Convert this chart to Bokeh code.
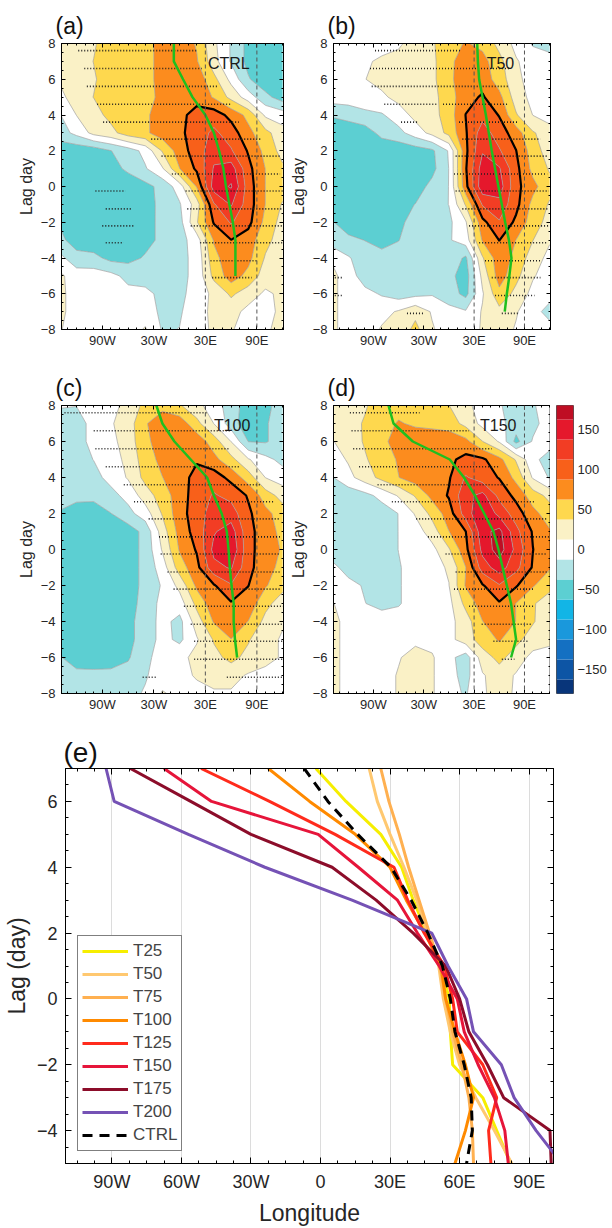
import numpy as np
from bokeh.plotting import figure
from bokeh.layouts import column, row
from bokeh.models import (FixedTicker, Span, Label, Legend, LegendItem,
                          LinearAxis, Range1d)
from bokeh.embed import file_html
from bokeh.resources import INLINE

FONT = "Liberation Sans"

# ---------------------------------------------------------------------------
# Lag-longitude composites (rows: lag 8 ... -8, columns: lon_grid)
# ---------------------------------------------------------------------------
lon_grid = [-140, -120, -100, -80, -60, -40, -20, 0, 20, 40, 60, 80, 100, 120]
lag_rows = [8, 7, 6, 5, 4, 3, 2, 1, 0, -1, -2, -3, -4, -5, -6, -7, -8]

anom_ctrl = [
    [22, 25, 35, 50, 52, 55, 70, 78, 60, 18, -15, -45, -55, -42],
    [22, 25, 38, 50, 52, 55, 70, 80, 65, 22, -15, -45, -55, -45],
    [15, 25, 35, 50, 52, 55, 70, 80, 78, 45, 5, -35, -55, -50],
    [5, 25, 38, 50, 52, 55, 68, 80, 80, 60, 30, 0, -30, -50],
    [-15, 13, 28, 45, 52, 58, 75, 82, 95, 100, 80, 55, 8, 0],
    [-25, -5, 20, 30, 50, 58, 75, 82, 100, 118, 100, 70, 45, 22],
    [-52, -55, -52, -38, -25, -5, 40, 75, 100, 128, 115, 85, 55, 28],
    [-52, -55, -55, -48, -32, -15, 10, 62, 92, 140, 150, 95, 62, 42],
    [-45, -52, -55, -58, -55, -45, -30, 0, 65, 150, 165, 100, 62, 50],
    [-42, -52, -55, -58, -55, -48, -30, -15, 25, 110, 140, 100, 62, 35],
    [-40, -52, -55, -55, -52, -45, -32, -22, 35, 90, 115, 95, 55, 28],
    [-30, -50, -55, -55, -52, -45, -32, -22, 0, 65, 87, 75, 45, 25],
    [-5, -28, -30, -45, -45, -35, -28, -20, -5, 55, 78, 70, 35, 18],
    [18, 0, 0, -5, -20, -25, -25, -20, -5, 45, 75, 55, 25, 15],
    [20, 0, 0, 0, -5, -5, -20, -20, 0, 18, 42, 25, 8, 18],
    [20, 0, 0, 0, 0, 0, -18, -15, 0, 20, 22, 5, 5, 18],
    [15, 0, 0, 0, 0, 15, -15, -12, 0, 18, 15, 0, 10, 18],
]

anom_t50 = [
    [0, 0, 0, 0, 8, 25, 35, 50, 65, 55, 30, 5, -15, -20],
    [0, 0, 8, 18, 22, 25, 32, 55, 78, 72, 45, 15, 0, -5],
    [0, 0, 12, 20, 25, 28, 32, 55, 82, 78, 50, 20, 0, 0],
    [0, 0, 5, 8, 20, 25, 30, 50, 80, 90, 70, 25, 5, 0],
    [-35, -28, -20, -15, 0, 20, 28, 50, 88, 105, 86, 40, 12, 0],
    [-55, -55, -50, -30, -20, 0, 20, 45, 85, 125, 100, 75, 40, 25],
    [-55, -58, -55, -55, -55, -50, -42, -10, 82, 135, 115, 88, 50, 25],
    [-55, -58, -58, -58, -58, -55, -45, -12, 85, 150, 140, 95, 55, 35],
    [-55, -58, -58, -58, -55, -50, -30, -12, 80, 155, 150, 95, 70, 45],
    [-50, -55, -58, -55, -45, -37, -25, -12, 40, 115, 130, 95, 55, 35],
    [-35, -50, -55, -50, -42, -30, -25, -18, 10, 80, 110, 82, 50, 28],
    [-25, -32, -38, -45, -38, -28, -22, -15, 0, 65, 88, 62, 38, 15],
    [10, -10, -25, -30, -30, -28, -25, -20, -42, 35, 78, 55, 25, 5],
    [20, 0, -25, -30, -30, -30, -28, -30, -50, 20, 75, 45, 15, 0],
    [20, 0, -5, -15, -25, -20, -15, -25, -45, 10, 55, 30, 5, -5],
    [20, 0, 0, 5, 15, 30, 10, -5, -10, 15, 30, 15, -5, -20],
    [20, 0, 0, 15, 20, 45, 15, 0, 0, 15, 25, 10, 0, -5],
]

anom_t100 = [
    [-10, -12, 0, 5, 20, 45, 55, 40, 20, 0, -25, -50, -45, -25],
    [-25, -22, -5, 10, 25, 60, 78, 78, 45, 12, -25, -55, -40, -25],
    [-25, -22, -5, 5, 25, 55, 78, 82, 78, 50, 12, -38, -40, -25],
    [-25, -22, -12, 0, 20, 50, 70, 82, 85, 70, 45, 15, -5, -20],
    [-25, -25, -20, -5, 15, 45, 62, 78, 95, 100, 80, 50, 12, 0],
    [-25, -30, -30, -20, -5, 25, 50, 75, 100, 115, 105, 85, 50, 28],
    [-40, -50, -52, -38, -20, 0, 40, 78, 100, 125, 125, 92, 70, 50],
    [-45, -55, -58, -58, -50, -30, 25, 72, 98, 135, 150, 95, 75, 55],
    [-45, -55, -58, -58, -50, -30, 15, 65, 90, 145, 160, 95, 75, 60],
    [-45, -55, -58, -58, -50, -30, 0, 50, 80, 130, 140, 95, 72, 55],
    [-45, -55, -58, -55, -50, -30, -10, 20, 68, 85, 110, 88, 65, 45],
    [-45, -55, -55, -55, -48, -28, -5, 0, 45, 78, 85, 78, 45, 25],
    [-45, -55, -55, -55, -45, -25, -5, -20, 25, 65, 78, 62, 30, 15],
    [-40, -52, -55, -55, -45, -25, -5, -18, 10, 40, 62, 40, 20, 10],
    [-35, -50, -52, -50, -40, -20, 0, 5, 20, 30, 45, 30, 20, 10],
    [-25, -30, -30, -30, -28, -15, 0, 5, 15, 20, 20, 10, 5, 0],
    [-25, -30, -30, -28, -20, -10, 15, 5, 5, 10, 10, 5, 0, 0],
]

anom_t150 = [
    [20, 25, 35, 50, 52, 52, 52, 38, 20, 0, -10, -25, -15, 0],
    [22, 28, 40, 52, 65, 58, 55, 50, 30, 5, -5, -25, -20, 0],
    [10, 25, 40, 55, 75, 80, 80, 80, 70, 38, 10, -45, -10, 0],
    [0, 15, 35, 50, 65, 78, 80, 82, 95, 92, 70, 35, -5, -25],
    [-15, 5, 25, 45, 62, 75, 78, 85, 115, 100, 86, 55, 10, -15],
    [-25, -28, -20, -5, 15, 40, 70, 90, 130, 145, 105, 80, 50, 30],
    [-25, -30, -30, -25, -12, 15, 45, 75, 125, 160, 130, 100, 70, 50],
    [-25, -30, -30, -28, -12, 0, 25, 62, 87, 155, 170, 120, 85, 65],
    [-25, -30, -30, -30, -12, 0, 5, 35, 80, 145, 175, 130, 88, 68],
    [-5, -22, -28, -30, -15, 0, 5, 15, 62, 125, 150, 120, 85, 65],
    [5, -5, -15, -28, -15, 0, 5, 12, 65, 85, 110, 90, 65, 45],
    [15, 0, -12, -20, -15, 0, 5, 5, 45, 75, 85, 62, 40, 25],
    [20, 5, 0, 0, 0, 5, 5, 5, 25, 62, 78, 62, 40, 20],
    [20, 5, 0, 0, 0, 5, 5, 5, 25, 50, 65, 45, 25, 20],
    [20, 5, 0, 0, 10, 25, 15, -5, -25, 25, 45, 25, 5, 0],
    [20, 5, 0, 0, 15, 25, 15, -5, -20, 10, 25, 10, 0, 0],
    [20, 5, 0, 0, 15, 25, 15, -5, -15, 10, 20, 10, 0, 0],
]

# significant rows: (lag, western lon, eastern lon)
sig_ctrl = [
    (7.6, -118, 20), (6.6, -111, 26), (5.6, -108, 44), (4.6, -96, 61),
    (3.6, -89, 69), (2.65, -33, 96), (1.7, -21, 117), (0.7, -9, 117),
    (-0.25, -98, -63), (-0.25, 7, 121), (-1.25, -86, -55), (-1.25, 9, 121),
    (-2.2, -90, -53), (-2.2, 13, 121), (-3.15, -86, -65), (-3.15, 24, 121),
    (-4.15, 36, 90), (-5.1, 38, 84),
]
sig_t50 = [
    (7.6, -88, 15), (6.6, -94, 72), (5.6, -92, 72), (4.6, -77, -15),
    (4.6, -7, 70), (3.6, -57, -36), (3.6, 12, 82), (2.65, 16, 109),
    (1.7, 8, 117), (0.7, 6, 117), (-0.25, 8, 119), (-1.25, 16, 119),
    (-2.2, 24, 119), (-3.15, 36, 117), (-4.15, 43, 109), (-5.1, 51, 109),
    (-5.1, -136, -127), (-6.1, 55, 102), (-6.1, -136, -127),
    (-7.1, -50, -30), (-7.1, 63, 82),
]
sig_t100 = [
    (7.6, -134, 32), (6.6, -100, 59), (5.6, -98, 59), (4.6, -86, 71),
    (3.6, -65, 94), (2.65, -53, 109), (1.7, -36, 117), (0.7, -24, 117),
    (-0.25, -22, 117), (-1.25, -14, 117), (-2.2, -7, 117), (-3.15, 5, 121),
    (-4.15, 13, 121), (-5.1, 17, 121), (-6.1, 17, 121), (-7.1, -43, -26),
    (-7.1, 55, 121),
]
sig_t150 = [
    (7.6, -118, -35), (6.6, -116, 24), (5.6, -114, 51), (4.6, -107, 59),
    (3.6, -85, 70), (2.65, -68, 102), (1.7, -39, 117), (0.7, -25, 119),
    (-0.25, -4, 117), (-1.25, 8, 119), (-2.2, 6, 102), (-3.15, 24, 102),
    (-4.15, 39, 98), (-5.1, 53, 94), (-6.1, 63, 78),
]

# tracked longitude of the maximum
track_ctrl_lag = [8, 7, 6, 5, 4, 3, 2, 1, 0, -1, -2, -3, -4, -5]
track_ctrl_lon = [-6.7, -6.7, 4, 15, 30, 40, 46, 51, 54, 58, 62, 65, 65, 65]
track_t50_lag = [8, 7, 6, 5, 4, 3, 2, 1, 0, -1, -2, -3, -4, -5, -6, -7]
track_t50_lon = [33.7, 34.5, 36, 40, 44, 47.5, 51, 55, 59, 63, 67, 71.5, 74.5, 72, 69, 66.5]
track_t100_lag = [8, 7, 6, 5, 4, 3, 2, 1, 0, -1, -2, -3, -4, -5, -6]
track_t100_lon = [-27, -20, -6, 13, 32, 40, 49, 55, 57, 58.5, 60.5, 63, 63, 64.5, 67]
track_t150_lag = [8, 7, 6, 5, 4, 3, 2, 1, 0, -1, -2, -3, -4, -5, -6]
track_t150_lon = [-72, -66, -43, 1, 18, 31, 42, 53, 59, 64, 69, 74, 77, 80, 74]

# ---------------------------------------------------------------------------
# Propagation of the maximum for every run (lon at each lag)
# ---------------------------------------------------------------------------
lag_days = [7, 6, 5, 4, 3, 2, 1, 0, -1, -2, -3, -4, -5]
runs = ["T25", "T50", "T75", "T100", "T125", "T150", "T175", "T200", "CTRL"]
lon_t25 = [-2, 11, 26, 35, 40, 46, 52, 55.5, 56, 57, 70, 76, 82]
lon_t50 = [21, 24.5, 30, 36, 41.5, 46, 51, 53, 56, 60, 67, 75, 82.5]
lon_t75 = [26, 29.5, 34, 38, 42.5, 47, 51.5, 54, 57, 61, 64, 65.5, 66]
lon_t100 = [-22.5, -4.7, 15, 30, 37, 45, 52, 54, 58, 62.5, 66, 62.5, 58]
lon_t125 = [-51.5, -22, 6.3, 31.7, 37.6, 44.7, 53.4, 57, 59, 70, 76, 72.5, 73.5]
lon_t150 = [-67.5, -47, -1, 16.3, 33.2, 41.8, 51.2, 59, 62, 68, 75, 79.5, 81]
lon_t175 = [-82, -56, -30, 5, 24, 40, 54, 60, 64, 72, 79, 99, 99.5]
lon_t200 = [-92.5, -89, -57, -24, 13.6, 48, 55, 63, 66, 78, 83.5, 93, 104]
lon_ctrl = [-7, 3.2, 16, 30.4, 39.1, 46.3, 52.6, 56, 58, 62, 65, 65.5, 63]

# ---------------------------------------------------------------------------
# Shading
# ---------------------------------------------------------------------------
levels = [-187.5 + 25 * i for i in range(16)]
band_colors = ["#08357a", "#0d55a5", "#1470c2", "#1a98dc", "#12b5e6",
               "#5ccfd2", "#b2e4e6", "#ffffff", "#faf1c6", "#fed84e",
               "#fc8c1e", "#f8601a", "#f23d24", "#e5182c", "#bf0e24"]
cbar_ticks = [-150, -100, -50, 0, 50, 100, 150]
ref_lons = [30, 90]

run_colors = ["#f6ee00", "#ffc870", "#ffb050", "#ff8a00", "#ff2b1c",
              "#e6153a", "#8c0d2a", "#7552b5", "black"]


def style_axis(ax, size):
    ax.major_tick_in = 4
    ax.major_tick_out = 0
    ax.minor_tick_in = 2
    ax.minor_tick_out = 0
    ax.axis_line_color = "black"
    ax.major_tick_line_color = "black"
    ax.minor_tick_line_color = "black"
    ax.major_label_text_font = FONT
    ax.major_label_text_font_size = size
    ax.major_label_text_color = "#262626"
    ax.axis_label_text_font = FONT
    ax.axis_label_text_font_style = "normal"
    ax.axis_label_text_color = "#262626"


def mirror_axes(p, xt, yt, tick_in, minor_in):
    # tick marks only, on the top and right edges of the frame
    top = LinearAxis(ticker=xt)
    right = LinearAxis(ticker=yt)
    for ax in (top, right):
        style_axis(ax, "1px")
        ax.major_tick_in = tick_in
        ax.minor_tick_in = minor_in
        ax.major_label_text_color = None
        ax.major_label_standoff = 0
    p.add_layout(top, "above")
    p.add_layout(right, "right")


def style_title(p, size, offset, standoff):
    p.title.text_font = FONT
    p.title.text_font_size = size
    p.title.text_font_style = "normal"
    p.title.text_color = "#111111"
    p.title.align = "left"
    p.title.offset = offset
    p.title.standoff = standoff


def lag_panel(field, sig_rows, tr_lag, tr_lon, tag, case, case_lon,
              width, b_left, b_right, height, b_top, b_bottom):
    p = figure(width=width, height=height, title=tag,
               x_range=Range1d(-137.5, 121), y_range=Range1d(-8, 8),
               min_border_left=b_left, min_border_right=b_right,
               min_border_top=b_top, min_border_bottom=b_bottom,
               toolbar_location=None, output_backend="svg")
    style_title(p, "23px", -6, 10)
    p.grid.visible = False
    p.outline_line_color = "black"
    p.outline_line_width = 1
    p.background_fill_color = "white"
    p.border_fill_color = "white"

    z = np.array(field, dtype=float)[::-1]
    y = lag_rows[::-1]
    p.contour(x=lon_grid, y=y, z=z, levels=levels, fill_color=band_colors,
              line_color="#a0a0a0", line_width=0.7)
    p.contour(x=lon_grid, y=y, z=z, levels=[87.5], line_color="black",
              line_width=2.2)

    for v in ref_lons:
        p.add_layout(Span(location=v, dimension="height", line_color="#555555",
                          line_dash="4 3", line_width=1))

    sig = np.array(sig_rows, dtype=float)
    p.segment(x0=sig[:, 1], y0=sig[:, 0], x1=sig[:, 2], y1=sig[:, 0],
              line_color="#1e1e1e", line_width=1.6, line_dash="1 2")

    p.line(tr_lon, tr_lag, line_color="#1fbf1f", line_width=2.5)

    p.add_layout(Label(x=case_lon, y=6.9, text=case, text_font=FONT,
                       text_font_size="16px", text_baseline="middle",
                       text_color="#1a1a1a"))

    x_major = [-90, -30, 30, 90]
    x_minor = [float(v) for v in np.arange(-130, 121, 10)]
    y_major = list(range(-8, 9, 2))
    y_minor = [float(v) for v in np.arange(-8, 8.01, 0.5)]
    p.xaxis.ticker = FixedTicker(ticks=x_major, minor_ticks=x_minor)
    p.yaxis.ticker = FixedTicker(ticks=y_major, minor_ticks=y_minor)
    p.xaxis.major_label_overrides = {-90: "90W", -30: "30W", 30: "30E", 90: "90E"}
    p.yaxis.axis_label = "Lag day"
    for ax in p.xaxis + p.yaxis:
        style_axis(ax, "13px")
    p.xaxis.major_label_standoff = 3
    p.yaxis.major_label_standoff = 6
    p.yaxis.axis_label_standoff = 3
    p.yaxis.axis_label_text_font_size = "16px"
    mirror_axes(p, FixedTicker(ticks=x_major, minor_ticks=x_minor),
                FixedTicker(ticks=y_major, minor_ticks=y_minor), 4, 2)
    return p


pa = lag_panel(anom_ctrl, sig_ctrl, track_ctrl_lag, track_ctrl_lon, "(a)", "CTRL", 33,
               286, 61, 3, 350, 43, 19)
pb = lag_panel(anom_t50, sig_t50, track_t50_lag, track_t50_lon, "(b)", "T50", 45,
               326, 42, 62, 350, 43, 19)
pc = lag_panel(anom_t100, sig_t100, track_t100_lag, track_t100_lon, "(c)", "T100", 40,
               286, 61, 3, 365, 55, 22)
pd = lag_panel(anom_t150, sig_t150, track_t150_lag, track_t150_lon, "(d)", "T150", 37,
               264, 42, 0, 365, 55, 22)

# colour key for the shading
cb = figure(width=62, height=365, title=None, x_range=Range1d(0, 1),
            y_range=Range1d(-180, 180), y_axis_location="right",
            min_border_left=6, min_border_right=39, min_border_top=55,
            min_border_bottom=22, toolbar_location=None, output_backend="svg")
cb.quad(left=0, right=1, bottom=levels[:-1], top=levels[1:],
        fill_color=band_colors, line_color=None)
cb.grid.visible = False
cb.xaxis.visible = False
cb.outline_line_color = "#555555"
cb.yaxis.ticker = FixedTicker(ticks=cbar_ticks)
style_axis(cb.yaxis[0], "13px")
cb.yaxis.major_tick_in = 0
cb.yaxis.minor_tick_in = 0
cb.yaxis.axis_line_color = None
cb.yaxis.major_label_standoff = 4

# ---------------------------------------------------------------------------
# Panel (e)
# ---------------------------------------------------------------------------
pe = figure(width=612, height=513, title="(e)",
            x_range=Range1d(-110, 100.5), y_range=Range1d(-5, 7),
            min_border_left=65, min_border_right=59, min_border_top=53,
            min_border_bottom=61, toolbar_location=None, output_backend="svg")
style_title(pe, "28px", -2, 2)
pe.outline_line_color = "black"
pe.ygrid.visible = False
pe.xgrid.grid_line_color = "#dcdcdc"
pe.xgrid.grid_line_width = 1

series = [lon_t25, lon_t50, lon_t75, lon_t100, lon_t125, lon_t150,
          lon_t175, lon_t200, lon_ctrl]
items = []
for name, lons, col in zip(runs, series, run_colors):
    dash = "10 7" if name == "CTRL" else "solid"
    r = pe.line(lons, lag_days, line_color=col, line_width=3, line_dash=dash)
    items.append(LegendItem(label=name, renderers=[r]))

legend = Legend(items=items, location=(12, 12), margin=0, padding=4,
                spacing=1, label_height=22, glyph_height=22, glyph_width=46,
                label_standoff=5, label_text_font=FONT,
                label_text_font_size="17px", border_line_color="black",
                border_line_width=1.2, background_fill_color="white",
                background_fill_alpha=1)
pe.add_layout(legend)

ex_ticks = [-90, -60, -30, 0, 30, 60, 90]
ex_minor = [float(v) for v in np.arange(-105, 100, 7.5)]
ey_ticks = [-4, -2, 0, 2, 4, 6]
ey_minor = [float(v) for v in np.arange(-5, 7.01, 0.5)]
pe.xaxis.ticker = FixedTicker(ticks=ex_ticks, minor_ticks=ex_minor)
pe.yaxis.ticker = FixedTicker(ticks=ey_ticks, minor_ticks=ey_minor)
pe.xaxis.major_label_overrides = {-90: "90W", -60: "60W", -30: "30W", 0: "0",
                                  30: "30E", 60: "60E", 90: "90E"}
pe.xaxis.axis_label = "Longitude"
pe.yaxis.axis_label = "Lag (day)"
for ax in pe.xaxis + pe.yaxis:
    style_axis(ax, "18px")
    ax.major_tick_in = 6
    ax.minor_tick_in = 3
    ax.axis_label_text_font_size = "23px"
pe.xaxis.major_label_standoff = 8
pe.yaxis.major_label_standoff = 8
pe.xaxis.axis_label_standoff = 5
pe.yaxis.axis_label_standoff = 4
mirror_axes(pe, FixedTicker(ticks=ex_ticks, minor_ticks=ex_minor),
            FixedTicker(ticks=ey_ticks, minor_ticks=ey_minor), 6, 3)

layout = column(row(pa, pb), row(pc, pd, cb), pe)

with open("out.html", "w") as f:
    f.write(file_html(layout, INLINE))
